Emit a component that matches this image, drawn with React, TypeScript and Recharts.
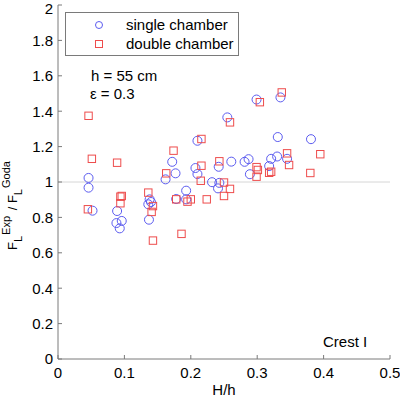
import React from "react";
import { ScatterChart, Scatter, XAxis, YAxis, ReferenceLine, Legend, Customized } from "recharts";

const FONT = "'Liberation Sans', Arial, Helvetica, sans-serif";

const xTicks = [0, 0.1, 0.2, 0.3, 0.4, 0.5];
const yTicks = [0, 0.2, 0.4, 0.6, 0.8, 1, 1.2, 1.4, 1.6, 1.8, 2];

const seriesNames = ["single chamber", "double chamber"];

const singleX = [0.046, 0.046, 0.052, 0.089, 0.088, 0.096, 0.093, 0.138, 0.140, 0.136, 0.137, 0.162, 0.172, 0.177, 0.178, 0.193, 0.193, 0.207, 0.210, 0.210, 0.232, 0.242, 0.243, 0.241, 0.255, 0.261, 0.281, 0.287, 0.289, 0.299, 0.318, 0.321, 0.330, 0.331, 0.335, 0.345, 0.381];
const singleY = [1.023, 0.968, 0.838, 0.836, 0.768, 0.780, 0.738, 0.902, 0.887, 0.874, 0.787, 1.015, 1.114, 1.049, 0.904, 0.951, 0.902, 1.079, 1.045, 1.233, 0.999, 1.086, 0.995, 0.964, 1.365, 1.115, 1.114, 1.129, 1.044, 1.466, 1.090, 1.131, 1.144, 1.254, 1.478, 1.131, 1.242];

const doubleX = [0.046, 0.051, 0.045, 0.089, 0.094, 0.096, 0.094, 0.136, 0.143, 0.141, 0.143, 0.163, 0.174, 0.178, 0.186, 0.195, 0.200, 0.216, 0.215, 0.216, 0.224, 0.243, 0.250, 0.259, 0.250, 0.259, 0.299, 0.301, 0.299, 0.304, 0.318, 0.321, 0.337, 0.345, 0.348, 0.380, 0.395];
const doubleY = [1.374, 1.131, 0.846, 1.109, 0.917, 0.921, 0.880, 0.940, 0.864, 0.831, 0.669, 1.049, 1.177, 0.902, 0.707, 0.889, 0.902, 1.092, 1.007, 1.243, 0.902, 1.117, 0.997, 0.961, 0.921, 1.337, 1.084, 1.068, 1.030, 1.451, 1.052, 1.058, 1.506, 1.162, 1.096, 1.051, 1.157];

const singleData = singleX.map((x, i) => ({ x, y: singleY[i] }));
const doubleData = doubleX.map((x, i) => ({ x, y: doubleY[i] }));

const BLUE = "#5c5cf0";
const RED = "#ee4c4c";
const AXIS = "#7a7a7a";

const CircleShape = (props: any) => (
  <circle cx={props.cx} cy={props.cy} r={4.5} fill="none" stroke={BLUE} strokeWidth={1} />
);
const SquareShape = (props: any) => (
  <rect x={props.cx - 3.7} y={props.cy - 3.7} width={7.4} height={7.4} fill="none" stroke={RED} strokeWidth={1} />
);

const LegendBox = () => (
  <div
    style={{
      width: 174,
      height: 44,
      boxSizing: "border-box",
      border: `1px solid ${AXIS}`,
      background: "#fff",
      position: "relative",
      fontFamily: FONT,
      fontSize: 15,
      color: "#000",
    }}
  >
    <svg width={14} height={14} style={{ position: "absolute", left: 26, top: 5 }}>
      <circle cx={7} cy={7} r={3.5} fill="none" stroke={BLUE} strokeWidth={1} />
    </svg>
    <svg width={14} height={14} style={{ position: "absolute", left: 26, top: 24 }}>
      <rect x={3.5} y={3.5} width={7} height={7} fill="none" stroke={RED} strokeWidth={1} />
    </svg>
    <div style={{ position: "absolute", left: 60, top: 3, lineHeight: "18px", whiteSpace: "nowrap" }}>{seriesNames[0]}</div>
    <div style={{ position: "absolute", left: 60, top: 22, lineHeight: "18px", whiteSpace: "nowrap" }}>{seriesNames[1]}</div>
  </div>
);

const Annotations = () => (
  <g style={{ fontFamily: FONT }} fill="#000">
    <text x={91} y={81} fontSize={15}>h = 55 cm</text>
    <text x={90} y={99} fontSize={15}>ε = 0.3</text>
    <text x={323} y={347} fontSize={15}>Crest I</text>
    <text x={224} y={395} fontSize={15} textAnchor="middle">H/h</text>
    <text transform="rotate(-90)" x={-250} y={17} fontSize={13}>
      <tspan>F</tspan>
      <tspan fontSize={11} dy={5}>L</tspan>
      <tspan fontSize={11} dx={1} dy={-12}>Exp</tspan>
      <tspan dx={2} dy={7}> / F</tspan>
      <tspan fontSize={11} dy={5}>L</tspan>
      <tspan fontSize={11} dx={1} dy={-12}>Goda</tspan>
    </text>
  </g>
);

export default function App() {
  const tickStyle = { fontSize: 15, fill: "#000", fontFamily: FONT };
  return (
    <div style={{ position: "absolute", left: 0, top: 0, width: 400, height: 397, background: "#fff" }}>
      <ScatterChart width={400} height={397} margin={{ top: 5, right: 10, bottom: 0, left: 0 }} style={{ fontFamily: FONT }}>
        <XAxis
          xAxisId="b"
          type="number"
          dataKey="x"
          domain={[0, 0.5]}
          ticks={xTicks}
          height={38}
          tickSize={-4}
          tickMargin={12}
          stroke={AXIS}
          tick={tickStyle}
          allowDataOverflow
        />
        <XAxis
          xAxisId="t"
          orientation="top"
          type="number"
          domain={[0, 0.5]}
          ticks={xTicks}
          height={0}
          tickSize={-4}
          tick={false}
          stroke={AXIS}
          allowDataOverflow
        />
        <YAxis
          yAxisId="l"
          type="number"
          dataKey="y"
          domain={[0, 2]}
          ticks={yTicks}
          width={58}
          tickSize={-4}
          tickMargin={9}
          stroke={AXIS}
          tick={tickStyle}
          allowDataOverflow
        />
        <YAxis
          yAxisId="r"
          orientation="right"
          type="number"
          domain={[0, 2]}
          ticks={yTicks}
          width={0}
          tickSize={-4}
          tick={false}
          stroke={AXIS}
          allowDataOverflow
        />
        <ReferenceLine xAxisId="b" yAxisId="l" y={1} stroke="#d6d6d6" strokeWidth={1} />
        <Scatter name={seriesNames[0]} data={singleData} xAxisId="b" yAxisId="l" shape={CircleShape} isAnimationActive={false} />
        <Scatter name={seriesNames[1]} data={doubleData} xAxisId="b" yAxisId="l" shape={SquareShape} isAnimationActive={false} />
        <Legend
          layout="vertical"
          align="center"
          verticalAlign="middle"
          content={() => <LegendBox />}
          wrapperStyle={{ position: "absolute", left: 65, top: 12, width: 174, height: 44 }}
        />
        <Customized component={<Annotations />} />
      </ScatterChart>
    </div>
  );
}
